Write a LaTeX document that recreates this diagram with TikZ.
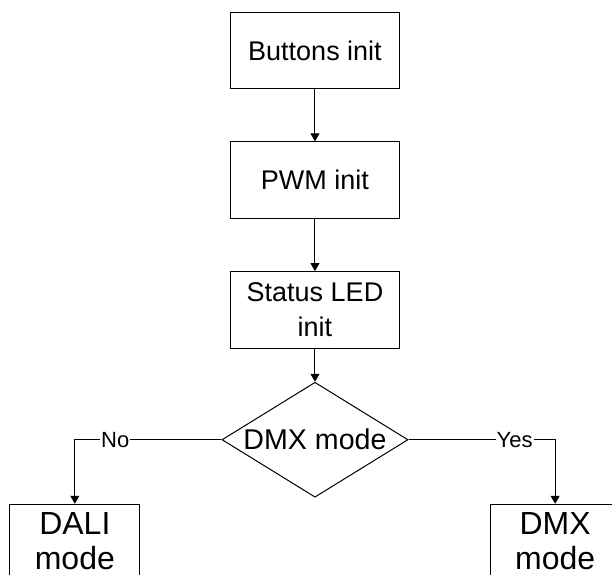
\documentclass[tikz,border=0pt]{standalone}
\usepackage{fontspec}
\setmainfont{Liberation Sans}
\usetikzlibrary{positioning}
\usetikzlibrary{shapes.geometric}
\usetikzlibrary{arrows.meta}
\tikzset{
	block/.style={draw, rectangle, inner sep=2pt, minimum width=2.97cm, minimum height=1.35cm, align=center, font=\fontsize{13.5}{17.5}\selectfont},
	decision/.style={draw, diamond, aspect=1.6, inner sep=0pt, minimum width=3.27cm, minimum height=2.02cm, font=\fontsize{14.3}{17.5}\selectfont},
	modebox/.style={draw, rectangle, inner sep=2pt, minimum width=2.285cm, minimum height=1.30cm, align=center, font=\fontsize{16}{17.5}\selectfont},
	% yes / no on the branches
	answer/.style={fill=white, inner sep=0.5pt, font=\fontsize{11}{12}\selectfont},
}
\begin{document}
\begin{tikzpicture}[line width=0.5pt]
			\useasboundingbox (-5.535,-9.217) rectangle (5.219,0.887);
			
			\node (btn) [block] {Buttons init};
			\node (pwm) [block, below of=btn, yshift=-1.28cm] {PWM init};
			\node (led) [block, below of=pwm, yshift=-1.28cm] {Status LED\\init};
			
			\node (dmx) [decision, below of=led, yshift=-1.28cm] {DMX mode};
			
			\node (dali) [modebox, below of=dmx, xshift=-4.22cm, yshift=-0.784cm] {DALI\\mode};
			\node (dmxm) [modebox, below of=dmx, xshift=4.22cm, yshift=-0.784cm] {DMX\\mode};
			
			\begin{scope}[black, -{Triangle[length=4pt, width=4.5pt]}]
				\draw (btn) -- (pwm);
				\draw (pwm) -- (led);
				\draw (led) -- (dmx);
				
				\draw (dmx.west) -| node [answer, pos=0.362] {No} (dali.north);
				\draw (dmx.east) -| node [answer, pos=0.362] {Yes} (dmxm.north);
			\end{scope}
			
		\end{tikzpicture}
\end{document}
